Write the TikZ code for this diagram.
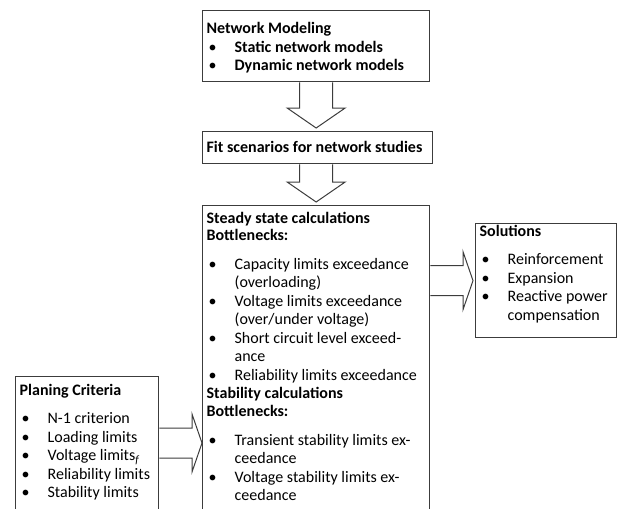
\documentclass[tikz,border=0pt]{standalone}
\usepackage{fontspec}
\setmainfont{Carlito}
\usetikzlibrary{calc}
\definecolor{boxgray}{HTML}{3C3C3C}
\tikzset{
  box/.style={draw=boxgray, line width=1.3pt, anchor=north west, inner xsep=4pt, inner ysep=0pt, font=\fontsize{16}{18.5}\selectfont},
  blockarr/.style={draw=boxgray, line width=1pt, line join=miter}
}
\newcommand{\itm}[1]{\hspace*{2pt}\makebox[26pt][l]{\textbullet}#1}
\newcommand{\cnt}[1]{\hspace*{28pt}#1}
\newcommand{\boxtext}[4]{\parbox[c][#2][t]{#1}{\raggedright\rule{0pt}{#3}#4}}
\newcommand{\blkdown}[2]{\draw[blockarr] let \p1=(#1), \p2=(#2) in
  (\x1-16.5pt,\y1) -- (\x1-16.5pt,\y2+20pt) -- (\x1-29pt,\y2+20pt) -- (\x1,\y2)
  -- (\x1+29pt,\y2+20pt) -- (\x1+16.5pt,\y2+20pt) -- (\x1+16.5pt,\y1);}
\newcommand{\blkright}[2]{\draw[blockarr] let \p1=(#1), \p2=(#2) in
  (\x1,\y1+15pt) -- (\x2-10pt,\y1+15pt) -- (\x2-10pt,\y1+29pt) -- (\x2,\y1)
  -- (\x2-10pt,\y1-29pt) -- (\x2-10pt,\y1-15pt) -- (\x1,\y1-15pt);}
\begin{document}
\begin{tikzpicture}[x=1pt, y=-1pt]
\useasboundingbox (0,0) rectangle (617,508);
\clip (0,0) rectangle (617,508);
\node[box] (netbox) at (202,10) {\boxtext{219pt}{71pt}{23pt}{\textbf{Network Modeling}\\
  \itm{\textbf{Static network models}}\\
  \itm{\textbf{Dynamic network models}}}};
\node[box] (fitbox) at (202,131) {\boxtext{222pt}{32pt}{21pt}{\textbf{Fit scenarios for network studies}}};
\node[box] (calcbox) at (202,205) {\boxtext{219pt}{330pt}{18pt}{\textbf{Steady state calculations}\\[-1.5pt]
  \textbf{Bottlenecks:}\\[10pt]
  \itm{Capacity limits exceedance}\\
  \cnt{(overloading)}\\
  \itm{Voltage limits exceedance}\\
  \cnt{(over/under voltage)}\\
  \itm{Short circuit level exceed-}\\
  \cnt{ance}\\
  \itm{Reliability limits exceedance}\\
  \textbf{Stability calculations}\\[-0.5pt]
  \textbf{Bottlenecks:}\\[10pt]
  \itm{Transient stability limits ex-}\\
  \cnt{ceedance}\\
  \itm{Voltage stability limits ex-}\\
  \cnt{ceedance}}};
\node[box] (solbox) at (475,223) {\boxtext{133pt}{114pt}{13pt}{\textbf{Solutions}\\[9.5pt]
  \itm{Reinforcement}\\
  \itm{Expansion}\\
  \itm{Reactive power}\\
  \cnt{compensation}}};
\node[box] (planbox) at (15,376) {\boxtext{135pt}{160pt}{19pt}{\textbf{Planing Criteria}\\[9.5pt]
  \itm{N-1 criterion}\\
  \itm{Loading limits}\\
  \itm{Voltage limits\textsubscript{\textit{f}}}\\
  \itm{Reliability limits}\\
  \itm{Stability limits}}};
\coordinate (critout) at ($(planbox.north east)+(0,67)$);
\blkdown{netbox.south}{[yshift=3pt]fitbox.north}
\blkdown{fitbox.south -| netbox.south}{[yshift=3pt]calcbox.north}
\blkright{calcbox.east |- solbox.west}{[xshift=-2pt]solbox.west}
\blkright{critout}{calcbox.west |- critout}
\end{tikzpicture}
\end{document}
